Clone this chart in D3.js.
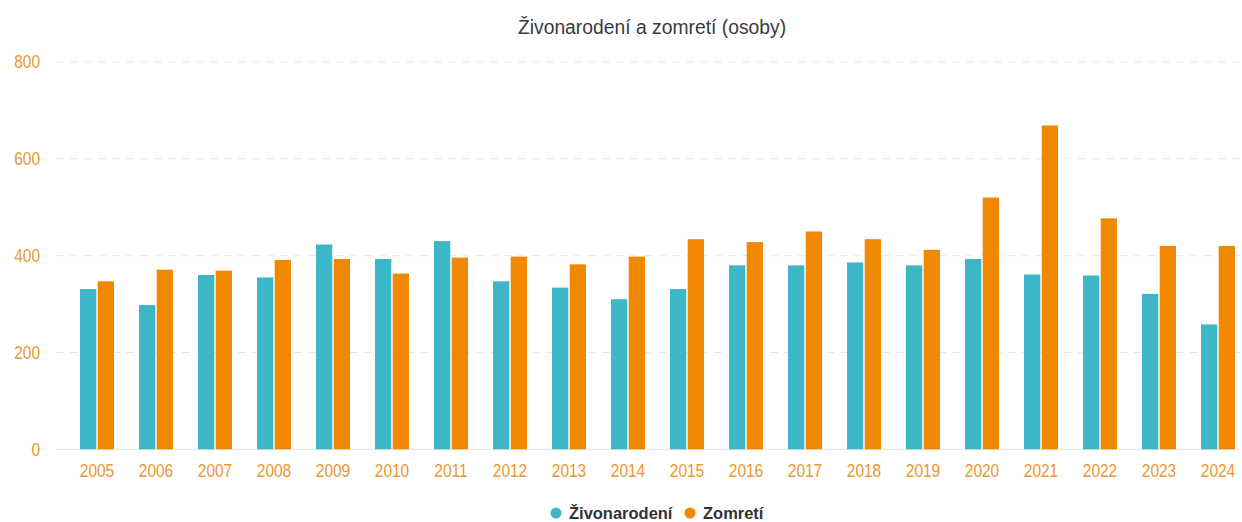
<!DOCTYPE html>
<html>
<head>
<meta charset="utf-8">
<script src="https://cdn.jsdelivr.net/npm/d3@7"></script>
<style>
  body { margin: 0; background: #fff; }
  svg text { font-family: "Liberation Sans", Arial, sans-serif; }
</style>
</head>
<body>
<svg id="chart" width="1242" height="522"></svg>
<script>
const years = ["2005","2006","2007","2008","2009","2010","2011","2012","2013","2014",
  "2015","2016","2017","2018","2019","2020","2021","2022","2023","2024"];
const zivonarodeni = [331, 298, 360, 355, 423, 393, 430, 347, 334, 310,
  331, 380, 380, 386, 380, 393, 361, 359, 321, 258];
const zomreti = [347, 371, 369, 391, 393, 363, 396, 398, 382, 398,
  434, 428, 450, 434, 412, 520, 669, 477, 420, 420];
const seriesNames = ["Živonarodení", "Zomretí"];
const colors = ["#3db7c7", "#f08800"];
const yTicks = [0, 200, 400, 600, 800];

const svg = d3.select("#chart");

const y = d3.scaleLinear().domain([0, 800]).range([449.3, 62]);
const x0 = d3.scaleBand().domain(years).range([67.5, 1247.5])
  .paddingInner(0.424).paddingOuter(0.212);
const x1 = d3.scaleBand().domain([0, 1]).range([0, x0.bandwidth()]).paddingInner(0.08);

// text looks condensed in the original, squeeze it horizontally
function squeezed(parent, px, py, sx) {
  return parent.append("g")
    .attr("transform", "translate(" + px + "," + py + ") scale(" + sx + ",1)")
    .append("text");
}

// gridlines
svg.append("g")
  .selectAll("line")
  .data(yTicks)
  .enter().append("line")
    .attr("x1", 56)
    .attr("x2", 1240)
    .attr("y1", d => y(d))
    .attr("y2", d => y(d))
    .attr("stroke", d => d === 0 ? "#e3e3e3" : "#e8e8e8")
    .attr("stroke-dasharray", d => d === 0 ? null : "8,6")
    .attr("stroke-width", 1);

// y labels
const yAxis = svg.append("g");
yTicks.forEach(function(t) {
  squeezed(yAxis, 40, y(t), 0.86)
    .attr("dy", "0.36em")
    .attr("text-anchor", "end")
    .attr("fill", "#eb9631")
    .style("font-size", "18px")
    .text(t);
});

// bars
const rows = years.map((yr, i) => ({year: yr, values: [zivonarodeni[i], zomreti[i]]}));
svg.append("g")
  .selectAll("g")
  .data(rows)
  .enter().append("g")
    .attr("transform", d => "translate(" + x0(d.year) + ",0)")
  .selectAll("rect")
  .data(d => d.values.map((v, k) => ({k: k, v: v})))
  .enter().append("rect")
    .attr("x", d => x1(d.k))
    .attr("width", x1.bandwidth())
    .attr("y", d => y(d.v))
    .attr("height", d => y(0) - y(d.v))
    .attr("fill", d => colors[d.k]);

// x labels
const xAxis = svg.append("g");
years.forEach(function(yr) {
  squeezed(xAxis, x0(yr) + x0.bandwidth() / 2, 477, 0.86)
    .attr("text-anchor", "middle")
    .attr("fill", "#eb9631")
    .style("font-size", "18px")
    .text(yr);
});

// title
squeezed(svg, 652, 33.5, 0.92)
  .attr("text-anchor", "middle")
  .attr("fill", "#3a3a3a")
  .style("font-size", "21px")
  .text("Živonarodení a zomretí (osoby)");

// legend
const legend = svg.append("g");
const dotX = [556, 690];
const labelX = [569, 703];
seriesNames.forEach(function(name, i) {
  legend.append("circle")
    .attr("cx", dotX[i])
    .attr("cy", 513)
    .attr("r", 5.5)
    .attr("fill", colors[i]);
  squeezed(legend, labelX[i], 519, 0.97)
    .attr("fill", "#333")
    .style("font-size", "17px")
    .style("font-weight", "bold")
    .text(name);
});
</script>
</body>
</html>
